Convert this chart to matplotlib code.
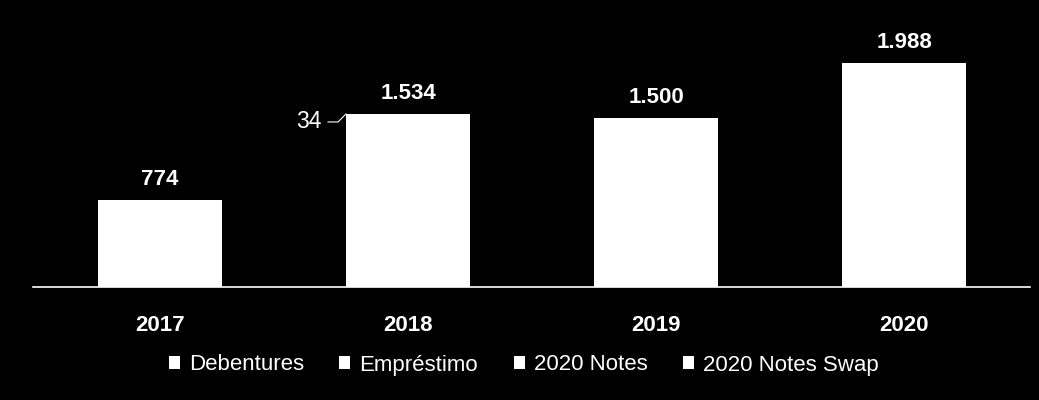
import matplotlib
matplotlib.use("Agg")
import matplotlib.pyplot as plt
import matplotlib.transforms as mtransforms
import numpy as np

years = ["2017", "2018", "2019", "2020"]
debentures = [774, 1500, 1500, 0]
emprestimo = [0, 34, 0, 0]
notes_2020 = [0, 0, 0, 1500]
notes_swap = [0, 0, 0, 488]
series_names = ["Debentures", "Empréstimo", "2020 Notes", "2020 Notes Swap"]
series = [debentures, emprestimo, notes_2020, notes_swap]

plt.rcParams['font.family'] = ['Liberation Sans', 'DejaVu Sans']

fig = plt.figure(figsize=(10.39, 4.0), dpi=100, facecolor='black')
ax = fig.add_axes([33/1039, 113/400, (1030-33)/1039, 287/400])
ax.set_facecolor('black')

x = np.arange(len(years))
bar_w = 0.5
bottom = np.zeros(len(years))
for name, vals in zip(series_names, series):
    ax.bar(x, vals, width=bar_w, bottom=bottom, color='white', edgecolor='none', label=name)
    bottom += np.array(vals)

ax.set_xlim((98 + 62 - 33) / -248 * 1.0, 3 + (1030 - 904) / 248)
ax.set_ylim(0, 287 / 0.1128)

totals = bottom
def fmt(v):
    return f"{int(round(v)):,}".replace(",", ".")

for xi, t in zip(x, totals):
    ax.annotate(fmt(t), (xi, t), xytext=(0, 7), textcoords='offset points',
                ha='center', va='bottom', color='white', fontsize=16, fontweight='bold')

# small label for Empréstimo in 2018 with leader line
i = 1
cx, cy = x[i] - bar_w / 2, debentures[i] + emprestimo[i]
txt_tr = mtransforms.offset_copy(ax.transData, fig=fig, x=-37, y=-8, units='dots')
ax.text(cx, cy, fmt(emprestimo[i]), transform=txt_tr, ha='center', va='center',
        color='white', fontsize=16.5)
line_tr = mtransforms.IdentityTransform() + mtransforms.ScaledTranslation(cx, cy, ax.transData)
ax.add_line(plt.Line2D([-18, -8, 0], [-8, -8, 0], transform=line_tr,
                       color='white', lw=0.8, clip_on=False))

for s in ['top', 'right', 'left']:
    ax.spines[s].set_visible(False)
ax.spines['bottom'].set_color('white')
ax.spines['bottom'].set_linewidth(1.2)
ax.set_yticks([])
ax.set_xticks(x)
ax.set_xticklabels(years, color='white', fontsize=16, fontweight='bold')
ax.tick_params(axis='x', length=0, pad=20)

leg = fig.legend(loc='center', bbox_to_anchor=(0.504, 35/400), ncol=4, frameon=False,
                 fontsize=16, handlelength=0.5, handleheight=0.5, handletextpad=0.4,
                 columnspacing=1.6, labelcolor='white')

fig.savefig('out.png', dpi=100, facecolor='black')
